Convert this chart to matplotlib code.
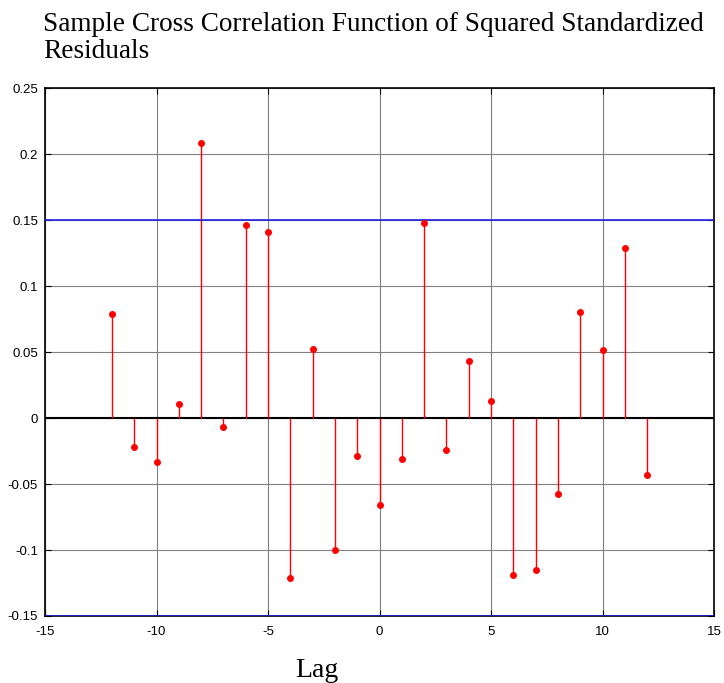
import matplotlib.pyplot as plt

plt.rcParams['axes.unicode_minus'] = False

lags = list(range(-12, 13))
xcf = [0.079, -0.022, -0.033, 0.0105, 0.208, -0.007, 0.146, 0.141, -0.1215,
       0.052, -0.100, -0.0285, -0.066, -0.031, 0.1475, -0.0245, 0.0435, 0.013,
       -0.119, -0.1155, -0.0576, 0.0805, 0.0515, 0.129, -0.0432]
bound = 0.15

fig = plt.figure(figsize=(7.24, 6.83), dpi=100)
ax = fig.add_axes([0.0622, 0.0981, 0.924, 0.773])

ax.grid(True, color='#808080', linewidth=0.8)
ax.set_axisbelow(True)
ax.axhline(0, color='black', linewidth=1.5, zorder=2)
ax.vlines(lags, 0, xcf, color='red', linewidth=1, zorder=3)
ax.plot(lags, xcf, 'o', color='red', markersize=4, zorder=4)
ax.axhline(bound, color='#2020e0', linewidth=1.2, zorder=3)
ax.axhline(-bound, color='#2020e0', linewidth=1.2, zorder=3)

ax.set_xlim(-15, 15)
ax.set_ylim(-0.15, 0.25)
ax.set_xticks([-15, -10, -5, 0, 5, 10, 15])
ax.set_yticks([-0.15, -0.1, -0.05, 0, 0.05, 0.1, 0.15, 0.2, 0.25])
ax.set_yticklabels(['-0.15', '-0.1', '-0.05', '0', '0.05', '0.1', '0.15', '0.2', '0.25'])
ax.tick_params(direction='in', top=True, right=True, labelsize=9.5, length=4)
ax.tick_params(axis='x', pad=7)
ax.tick_params(axis='y', pad=5)
for lab in ax.get_xticklabels() + ax.get_yticklabels():
    lab.set_fontfamily('Liberation Sans')
for s in ax.spines.values():
    s.set_linewidth(1.2)

fig.text(0.059, 0.983, 'Sample Cross Correlation Function of Squared Standardized\nResiduals',
         family='Liberation Serif', fontsize=19.6, ha='left', va='top', linespacing=1.15)
fig.text(0.437, 0.009, 'Lag', family='Liberation Serif', fontsize=20, ha='center', va='baseline')

fig.savefig('out.png', dpi=100)
